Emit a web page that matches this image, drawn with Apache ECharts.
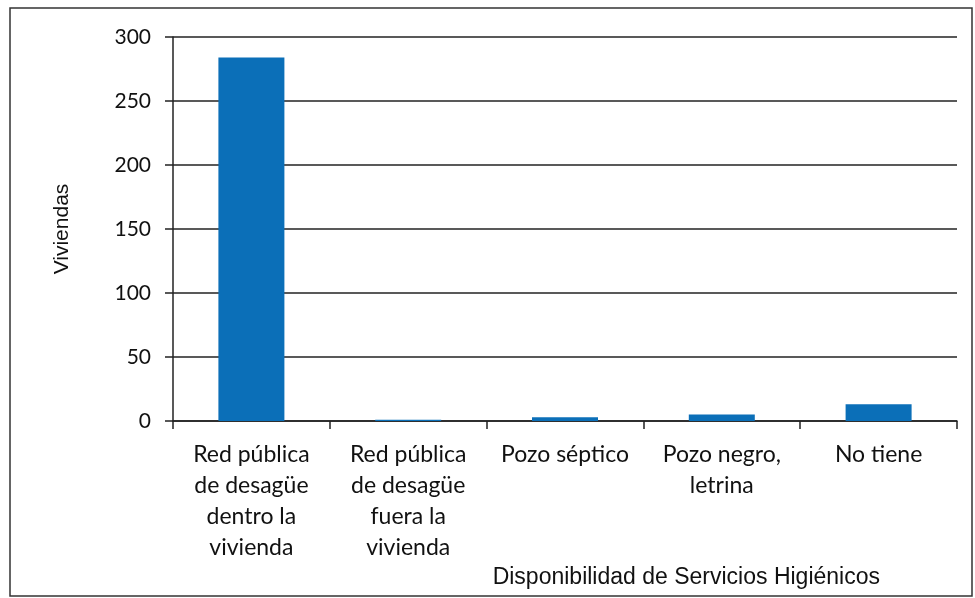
<!DOCTYPE html>
<html><head><meta charset="utf-8">
<script src="https://cdn.jsdelivr.net/npm/echarts@6/dist/echarts.min.js"></script>
<style>html,body{margin:0;padding:0;background:#fff}#c{width:975px;height:598px}</style>
</head><body><div id="c"></div>
<script>
const categories = ["Red pública\nde desagüe\ndentro la\nvivienda", "Red pública\nde desagüe\nfuera la\nvivienda", "Pozo séptico", "Pozo negro,\nletrina", "No tiene"];
const values = [284, 1, 3, 5, 13];
const yTicks = [0, 50, 100, 150, 200, 250, 300];
const yName = "Viviendas";
const xName = "Disponibilidad de Servicios Higiénicos";

const chart = echarts.init(document.getElementById('c'));
chart.setOption({
  animation: false,
  backgroundColor: '#fff',
  graphic: [{type:'rect', shape:{x:10, y:8, width:962, height:588}, style:{fill:'none', stroke:'#333', lineWidth:1.5}}],
  grid: {left:173, right:18, top:37, bottom:177},
  xAxis: {
    type:'category', data: categories,
    axisLine:{lineStyle:{color:'#222', width:1.5}},
    axisTick:{show:true, alignWithLabel:false, length:8, lineStyle:{color:'#222', width:1.5}},
    axisLabel:{interval:0, color:'#111', fontFamily:'Lato, "Open Sans", sans-serif', fontSize:23, lineHeight:31, margin:18},
    name: xName, nameLocation:'end', nameGap:0,
    nameTextStyle:{color:'#111', fontFamily:'"Liberation Sans Narrow", "Liberation Sans", Arial, sans-serif', fontSize:23, align:'right', verticalAlign:'top', padding:[145, 77, 0, 0]}
  },
  yAxis: {
    type:'value', min:0, max:300, interval:50,
    axisLine:{show:true, lineStyle:{color:'#222', width:1.5}},
    axisTick:{show:true, length:8, lineStyle:{color:'#222', width:1.5}},
    splitLine:{show:true, lineStyle:{color:'#222', width:1.5}},
    axisLabel:{color:'#111', fontFamily:'Lato, "Open Sans", sans-serif', fontSize:21, margin:22,
      formatter: v => yTicks.includes(v) ? String(v) : ''},
    name: yName, nameLocation:'middle', nameGap:100, nameRotate:90,
    nameTextStyle:{color:'#111', fontFamily:'"Liberation Sans Narrow", "Liberation Sans", Arial, sans-serif', fontSize:21}
  },
  series: [{type:'bar', data: values, barWidth:66, itemStyle:{color:'#0b6fb8'}}]
});
</script></body></html>
